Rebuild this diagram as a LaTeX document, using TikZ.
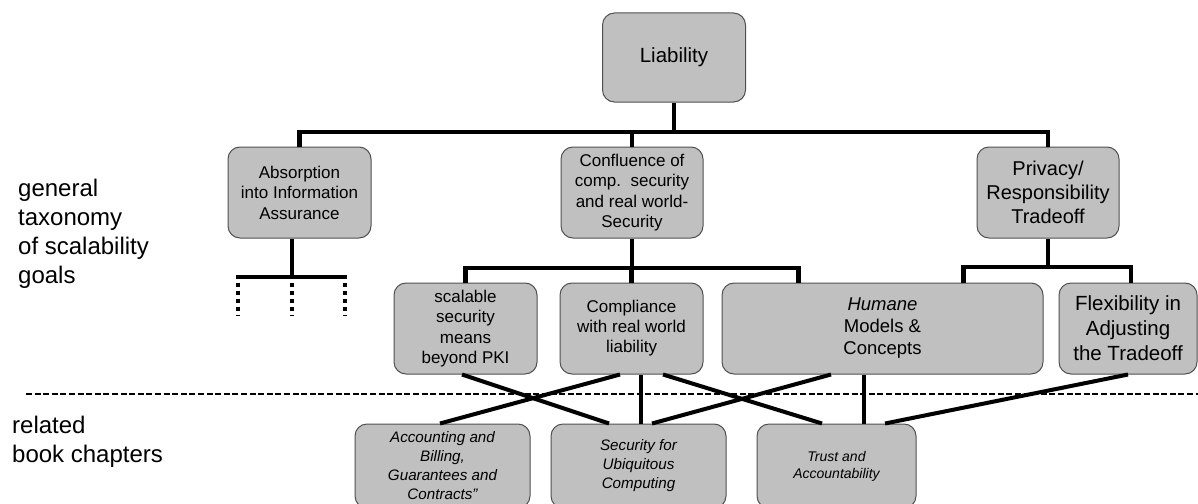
\documentclass[tikz,border=0pt]{standalone}
\usepackage{fontspec}
\setmainfont{Liberation Sans}
\usetikzlibrary{calc}
\definecolor{boxfill}{RGB}{192,192,192}
\definecolor{boxline}{RGB}{80,80,80}
\begin{document}
\begin{tikzpicture}[x=1pt,y=-1pt,
  box/.style={draw=boxline, fill=boxfill, line width=1pt, rounded corners=12pt, align=center, inner sep=0pt, text=black},
  tree/.style={line width=4.2pt, black},
  cross/.style={line width=4pt, black},
  dotline/.style={line width=3.6pt, black, dash pattern=on 4.5pt off 3.5pt},
  sep/.style={line width=2.8pt, black, dash pattern=on 6pt off 2.6pt},
  lbl/.style={align=left, inner sep=0pt, anchor=north west, font=\fontsize{24}{29}\selectfont}]
\clip (0,0) rectangle (1198,503);
\useasboundingbox (0,0) rectangle (1198,503);
\fill[white] (0,0) rectangle (1198,503);

% boxes
\node[box, minimum width=143pt, minimum height=89pt, font=\fontsize{20.5}{24}\selectfont] (lia) at (674,57.5) {Liability};
\node[box, minimum width=143pt, minimum height=91pt, font=\fontsize{17}{20.5}\selectfont] (abs) at (299.5,192.5) {Absorption\\into Information\\Assurance};
\node[box, minimum width=142pt, minimum height=91pt, font=\fontsize{17}{20.5}\selectfont] (conf) at (632,192.5) {Confluence of\\comp.\ \ security\\and real world-\\Security};
\node[box, minimum width=142pt, minimum height=91pt, font=\fontsize{20}{24}\selectfont] (priv) at (1048,192.5) {Privacy/\\Responsibility\\Tradeoff};

\node[box, minimum width=143pt, minimum height=91pt, font=\fontsize{17}{20.5}\selectfont] (scal) at (465.5,328.5) {scalable\\security\\means\\beyond PKI};
\node[box, minimum width=143pt, minimum height=91pt, font=\fontsize{17}{20}\selectfont] (comp) at (631.5,328.5) {Compliance\\with real world\\liability};
\node[box, minimum width=321pt, minimum height=91pt, font=\fontsize{18.5}{22}\selectfont] (hum) at (882.5,328.5) {\textit{Humane}\\Models \&\\Concepts};
\node[box, minimum width=138pt, minimum height=91pt, font=\fontsize{20.5}{25}\selectfont] (flex) at (1128,328.5) {Flexibility in\\Adjusting\\the Tradeoff};

\node[box, minimum width=175pt, minimum height=84pt, font=\fontsize{15.2}{19}\selectfont\itshape] (acc) at (442.5,466) {Accounting and\\Billing,\\Guarantees and\\Contracts”};
\node[box, minimum width=175pt, minimum height=84pt, font=\fontsize{15.2}{19}\selectfont\itshape] (sec) at (638.5,466) {Security for\\Ubiquitous\\Computing};
\node[box, minimum width=159pt, minimum height=84pt, font=\fontsize{14}{17}\selectfont\itshape] (tru) at (836.5,466) {Trust and\\Accountability};

% side labels
\node[lbl] (gl) at (18,178.6) {general\\taxonomy\\of scalability\\goals};
\node[lbl] (rl) at (12,415.6) {related\\book chapters};

% top tree
\coordinate (b1) at (674,132);
\draw[tree] (lia.south) -- (b1);
\draw[tree] (abs.north) |- (b1) -| (priv.north);
\draw[tree] (conf.north) -- (conf.north |- b1);

% absorption sub-tree
\coordinate (a1) at (292,277);
\coordinate (aL) at (238,277);
\coordinate (aR) at (345,277);
\coordinate (dL) at (238,316);
\coordinate (dM) at (292,316);
\coordinate (dR) at (345,316);
\draw[tree] (abs.south -| a1) -- (a1);
\draw[tree, line cap=rect] (aL) -- (aR);
\draw[dotline] ($(aL)+(0,5.7)$) -- (dL);
\draw[dotline] ($(a1)+(0,5.7)$) -- (dM);
\draw[dotline] ($(aR)+(0,5.7)$) -- (dR);

% confluence sub-tree
\coordinate (b2) at (632,268);
\draw[tree] (conf.south) -- (b2);
\draw[tree] (scal.north) |- (b2) -| ($(hum.north west)+(77,0)$);
\draw[tree] (comp.north) -- (comp.north |- b2);

% privacy sub-tree
\coordinate (b3) at (1048,267);
\draw[tree] (priv.south) -- (b3);
\draw[tree] ($(hum.north west)+(242,0)$) |- (b3) -| ($(flex.north)+(3,0)$);

% separator
\coordinate (s1) at (26,394);
\coordinate (s2) at (1198,394);
\draw[sep] (s1) -- (s2);

% links to chapters
\draw[cross] ($(scal.south)+(-3.5,0)$) -- ($(sec.north)+(-29.5,0)$);
\draw[cross] ($(comp.south)+(-11.5,0)$) -- ($(acc.north)+(-2.5,0)$);
\draw[cross] ($(comp.south)+(9.5,0)$) -- ($(sec.north)+(2.5,0)$);
\draw[cross] ($(comp.south)+(31.5,0)$) -- ($(tru.north)+(-14.5,0)$);
\draw[cross] ($(hum.south)+(-51.5,0)$) -- ($(sec.north)+(13.5,0)$);
\draw[cross] ($(hum.south)+(-18.5,0)$) -- ($(tru.north)+(27.5,0)$);
\draw[cross] (flex.south) -- ($(tru.north)+(48.5,0)$);
\end{tikzpicture}
\end{document}
